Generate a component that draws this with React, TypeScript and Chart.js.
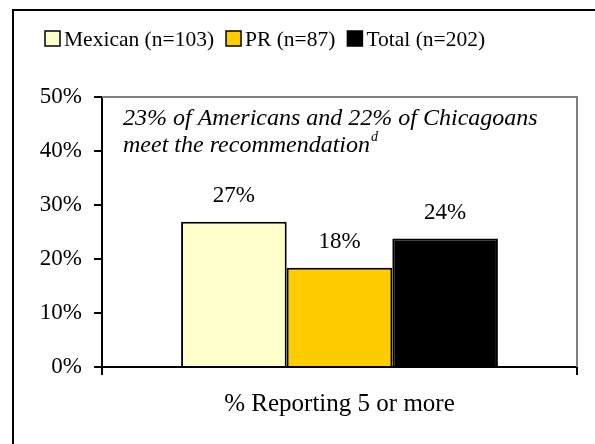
import React, { useEffect, useRef } from "react";
import { Chart, registerables } from "chart.js";

Chart.register(...registerables);

const categories = ["% Reporting 5 or more"];
const seriesNames = ["Mexican (n=103)", "PR (n=87)", "Total (n=202)"];
const mexicanValues = [26.9];
const prValues = [18.4];
const totalValues = [23.8];
const valueLabels = ["27%", "18%", "24%"];
const seriesColors = ["#FFFFCC", "#FFCC00", "#000000"];
const noteLine1 = "23% of Americans and 22% of Chicagoans";
const noteLine2 = "meet the recommendation";
const noteSup = "d";

const FONT = "'Liberation Serif', 'Times New Roman', serif";

const framePlugin = {
  id: "framePlugin",
  beforeDraw(chart: any) {
    const ctx = chart.ctx;
    ctx.save();
    ctx.fillStyle = "#ffffff";
    ctx.fillRect(0, 0, chart.width, chart.height);
    ctx.strokeStyle = "#000000";
    ctx.lineWidth = 2;
    ctx.strokeRect(13, 10, chart.width + 20, chart.height + 20);
    ctx.restore();
  },
  beforeDatasetsDraw(chart: any) {
    const { ctx, chartArea } = chart;
    ctx.save();
    ctx.strokeStyle = "#808080";
    ctx.lineWidth = 2;
    ctx.beginPath();
    ctx.moveTo(chartArea.left, chartArea.top);
    ctx.lineTo(chartArea.right, chartArea.top);
    ctx.lineTo(chartArea.right, chartArea.bottom);
    ctx.stroke();
    ctx.restore();
  },
};

const legendPlugin = {
  id: "customLegend",
  afterDraw(chart: any) {
    const ctx = chart.ctx;
    ctx.save();
    ctx.font = `21.5px ${FONT}`;
    ctx.textBaseline = "alphabetic";
    ctx.textAlign = "left";
    let x = 45;
    const boxTop = 31;
    const box = 15;
    chart.data.datasets.forEach((ds: any) => {
      ctx.fillStyle = ds.backgroundColor;
      ctx.fillRect(x, boxTop, box, box);
      ctx.strokeStyle = "#000000";
      ctx.lineWidth = 1.5;
      ctx.strokeRect(x, boxTop, box, box);
      x += box + 4;
      ctx.fillStyle = "#000000";
      ctx.fillText(ds.label, x, 46);
      x += ctx.measureText(ds.label).width + 12;
    });
    ctx.restore();
  },
};

const labelsPlugin = {
  id: "valueLabels",
  afterDatasetsDraw(chart: any) {
    const ctx = chart.ctx;
    ctx.save();
    ctx.font = `23px ${FONT}`;
    ctx.fillStyle = "#000000";
    ctx.textAlign = "center";
    ctx.textBaseline = "middle";
    chart.data.datasets.forEach((ds: any, i: number) => {
      const meta = chart.getDatasetMeta(i);
      meta.data.forEach((el: any) => {
        ctx.fillText(valueLabels[i], el.x, el.y - 26);
      });
    });
    // annotation note
    const { chartArea } = chart;
    const nx = chartArea.left + 21;
    ctx.textAlign = "left";
    ctx.textBaseline = "middle";
    ctx.font = `italic 24px ${FONT}`;
    ctx.fillText(noteLine1, nx, chartArea.top + 22);
    ctx.fillText(noteLine2, nx, chartArea.top + 49);
    const w = ctx.measureText(noteLine2).width;
    ctx.font = `italic 14px ${FONT}`;
    ctx.fillText(noteSup, nx + w + 1, chartArea.top + 40);
    ctx.restore();
  },
};

export default function App() {
  const canvasRef = useRef<HTMLCanvasElement | null>(null);

  useEffect(() => {
    if (!canvasRef.current) return;
    const values = [mexicanValues, prValues, totalValues];
    const chart = new Chart(canvasRef.current, {
      type: "bar",
      data: {
        labels: categories,
        datasets: seriesNames.map((name, i) => ({
          label: name,
          data: values[i],
          backgroundColor: seriesColors[i],
          borderColor: "#000000",
          borderWidth: 2,
          categoryPercentage: 0.667,
          barPercentage: 1,
        })),
      },
      options: {
        animation: false,
        responsive: false,
        maintainAspectRatio: false,
        layout: { padding: { left: 0, top: 97, right: 18, bottom: 0 } },
        plugins: {
          legend: { display: false },
          tooltip: { enabled: false },
          title: { display: false },
        },
        scales: {
          x: {
            grid: {
              display: true,
              drawOnChartArea: false,
              drawTicks: true,
              tickLength: 8,
              color: "#000000",
              lineWidth: 2,
              offset: true,
            },
            border: { display: true, color: "#000000", width: 2 },
            ticks: {
              color: "#000000",
              font: { family: FONT, size: 25 },
              padding: 14,
            },
            afterFit(scale: any) {
              scale.height = 77;
            },
          },
          y: {
            min: 0,
            max: 50,
            grid: {
              display: true,
              drawOnChartArea: false,
              drawTicks: true,
              tickLength: 8,
              color: "#000000",
              lineWidth: 2,
            },
            border: { display: true, color: "#000000", width: 2 },
            ticks: {
              stepSize: 10,
              color: "#000000",
              font: { family: FONT, size: 23 },
              padding: 12,
              callback: (v: any) => `${v}%`,
            },
            afterFit(scale: any) {
              scale.width = 102;
            },
          },
        },
      },
      plugins: [framePlugin, labelsPlugin, legendPlugin],
    });
    return () => chart.destroy();
  }, []);

  return (
    <div style={{ position: "absolute", left: 0, top: 0, width: 595, height: 444, background: "#fff" }}>
      <canvas ref={canvasRef} width={595} height={444} style={{ display: "block", width: 595, height: 444 }} />
    </div>
  );
}
